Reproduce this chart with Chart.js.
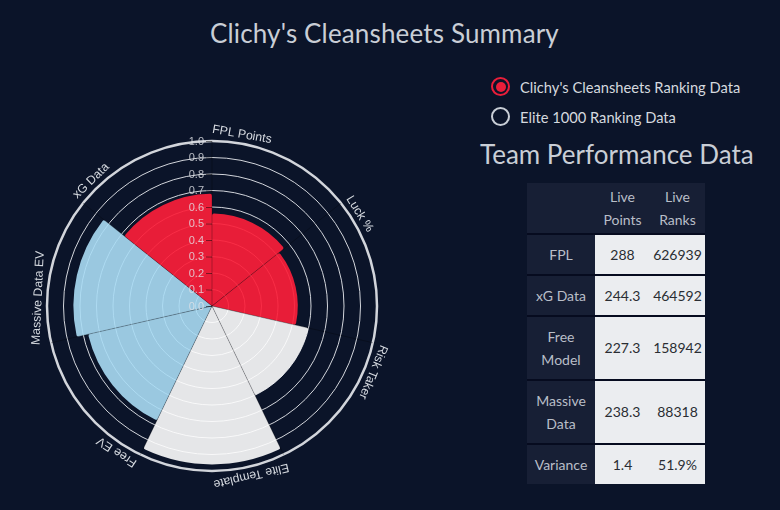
<!DOCTYPE html>
<html>
<head>
<meta charset="utf-8">
<script src="https://cdn.jsdelivr.net/npm/chart.js@4/dist/chart.umd.min.js"></script>
<style>
html, body { margin: 0; padding: 0; background: #0b1429; width: 780px; height: 510px; overflow: hidden; }
body { position: relative; font-family: Lato, sans-serif; color: #d5d9df; }
#chart { position: absolute; left: 12px; top: 106px; }
.title { position: absolute; white-space: nowrap; font-weight: 400; color: #c9ced6; }
#title { left: 210px; top: 18px; font-size: 26px; letter-spacing: 0.15px; line-height: 30px; }
#subtitle { left: 480px; top: 139px; font-size: 26px; line-height: 30px; }
.radio { position: absolute; left: 491px; width: 15px; height: 15px; border: 2.5px solid #c9ced6; border-radius: 50%; }
.radio.on { border-color: #e91e3a; }
.radio.on::after { content: ""; position: absolute; left: 2.5px; top: 2.5px; width: 10px; height: 10px; border-radius: 50%; background: #e91e3a; }
.legend-text { position: absolute; left: 520px; font-size: 14.7px; line-height: 20px; color: #d5d9df; white-space: nowrap; }
table { position: absolute; left: 527px; top: 183px; width: 178px; border-collapse: collapse; table-layout: fixed; font-size: 14px; line-height: 23px; }
th, td { padding: 0 0 1px 0; text-align: center; font-weight: 400; border-bottom: 2px solid #060b1f; }
tr:last-child th, tr:last-child td { border-bottom: 0; }
th { background: #171f35; color: #b9bec8; }
td { background: #ebedf0; color: #2a2d33; }
</style>
</head>
<body>
<div class="title" id="title">Clichy's Cleansheets Summary</div>
<div class="radio on" style="top:77px"></div>
<div class="legend-text" style="top:77px">Clichy's Cleansheets Ranking Data</div>
<div class="radio" style="top:107px"></div>
<div class="legend-text" style="top:107px">Elite 1000 Ranking Data</div>
<div class="title" id="subtitle">Team Performance Data</div>
<canvas id="chart" width="400" height="400"></canvas>
<table id="perf"></table>
<script>
const categories = ['FPL Points', 'Luck %', 'Risk Taker', 'Elite Template', 'Free EV', 'Massive Data EV', 'xG Data']
const rankValues = [0.56, 0.52, 0.6, 0.96, 0.77, 0.84, 0.68]
const wedgeColors = [
	'rgba(252,30,58,0.92)', 'rgba(252,30,58,0.92)',
	'rgba(253,253,253,0.9)', 'rgba(253,253,253,0.9)',
	'rgba(170,220,244,0.9)', 'rgba(170,220,244,0.9)',
	'rgba(252,30,58,0.92)'
]
const tickLabels = ['0.0', '0.1', '0.2', '0.3', '0.4', '0.5', '0.6', '0.7', '0.8', '0.9', '1.0']

const tableHead = ['', 'Live<br>Points', 'Live<br>Ranks']
const tableRows = ['FPL', 'xG Data', 'Free<br>Model', 'Massive<br>Data', 'Variance']
const livePoints = ['288', '244.3', '227.3', '238.3', '1.4']
const liveRanks = ['626939', '464592', '158942', '88318', '51.9%']
const rowHeights = [41, 41, 64, 64, 40]

let html = '<colgroup><col style="width:68px"><col style="width:55px"><col style="width:55px"></colgroup>'
html += '<tr style="height:51px">' + tableHead.map(h => '<th>' + h + '</th>').join('') + '</tr>'
tableRows.forEach((name, i) => {
	html += '<tr style="height:' + rowHeights[i] + 'px"><th>' + name + '</th><td>' + livePoints[i] + '</td><td>' + liveRanks[i] + '</td></tr>'
})
document.getElementById('perf').innerHTML = html

// axis ticks, spoke lines and the rotated labels sit on top of the wedges
const polarOverlay = {
	id: 'polarOverlay',
	afterDatasetsDraw(chart) {
		const r = chart.scales.r
		const ctx = chart.ctx
		const outer = r.drawingArea
		ctx.save()
		ctx.lineWidth = 0.7
		ctx.strokeStyle = 'rgba(0,0,0,0.38)'
		categories.forEach((c, i) => {
			const p = r.getPointPosition(i, outer)
			ctx.beginPath()
			ctx.moveTo(r.xCenter, r.yCenter)
			ctx.lineTo(p.x, p.y)
			ctx.stroke()
		})

		ctx.lineWidth = 1
		ctx.font = '11px "Liberation Sans"'
		ctx.textAlign = 'right'
		ctx.textBaseline = 'middle'
		r.ticks.forEach((t, i) => {
			const y = r.yCenter - r.getDistanceFromCenterForValue(t.value)
			ctx.strokeStyle = 'rgba(0,0,0,0.5)'
			ctx.beginPath()
			ctx.moveTo(r.xCenter - 6, y + 0.5)
			ctx.lineTo(r.xCenter, y + 0.5)
			ctx.stroke()
			ctx.fillStyle = 'rgba(225,228,232,0.8)'
			ctx.fillText(tickLabels[i], r.xCenter - 8, y + 0.5)
		})

		ctx.font = '12.3px "Liberation Sans"'
		ctx.textAlign = 'center'
		ctx.fillStyle = '#d5d9df'
		const labelRadius = outer + 9
		categories.forEach((c, i) => {
			const half = ctx.measureText(c).width / 2 / labelRadius
			const p = r.getPointPosition(i, labelRadius, half)
			ctx.save()
			ctx.translate(p.x, p.y)
			ctx.rotate(p.angle + Math.PI / 2)
			ctx.fillText(c, 0, 0)
			ctx.restore()
		})
		ctx.restore()
	}
}

new Chart(document.getElementById('chart'), {
	type: 'polarArea',
	data: {
		labels: categories,
		datasets: [{
			data: rankValues,
			backgroundColor: wedgeColors,
			borderWidth: 0,
			borderRadius: {outerStart: 2, outerEnd: 2, innerStart: 0, innerEnd: 0}
		}]
	},
	options: {
		responsive: false,
		animation: false,
		layout: {padding: 35},
		plugins: {legend: {display: false}, tooltip: {enabled: false}},
		scales: {
			r: {
				min: 0,
				max: 1,
				startAngle: 0,
				ticks: {display: false, stepSize: 0.1, callback: (v, i) => tickLabels[i]},
				angleLines: {display: false},
				pointLabels: {display: false},
				grid: {
					color: 'rgba(232,234,238,0.9)',
					lineWidth: ctx => ctx.index === tickLabels.length - 1 ? 2.5 : 1
				}
			}
		}
	},
	plugins: [polarOverlay]
})
</script>
</body>
</html>
